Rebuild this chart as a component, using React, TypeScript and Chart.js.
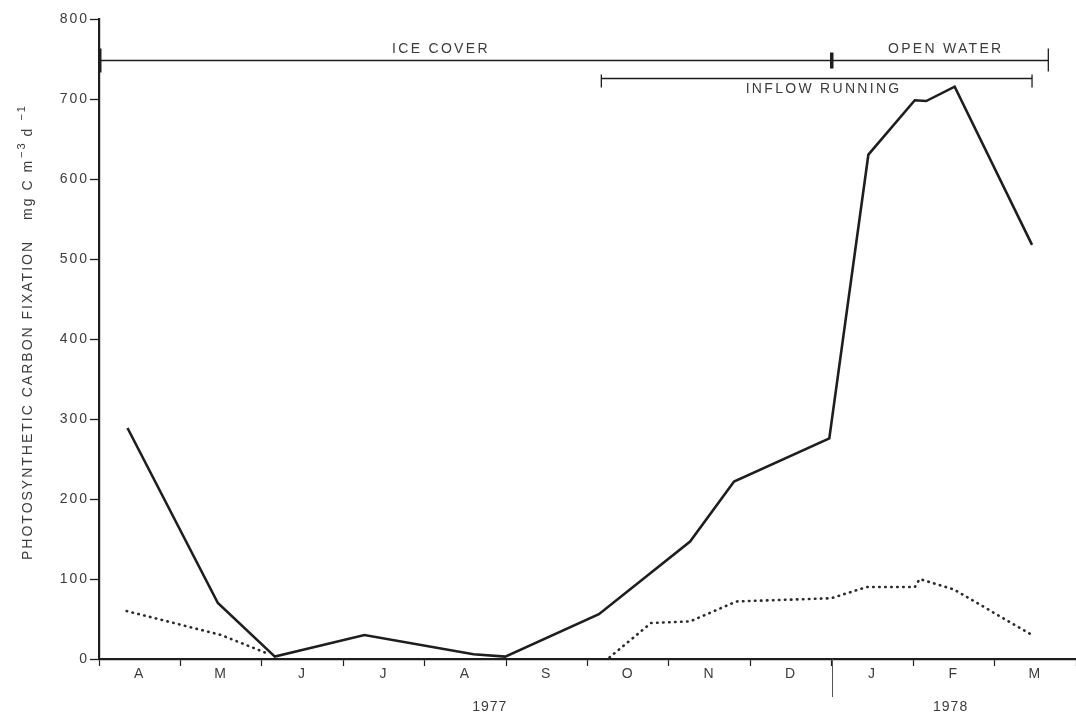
import React, { useEffect, useRef } from 'react';
import { Chart, registerables } from 'chart.js';

Chart.register(...registerables);

// ---------- data ----------
const monthLabels = ['A', 'M', 'J', 'J', 'A', 'S', 'O', 'N', 'D', 'J', 'F', 'M'];
const yearLabels = ['1977', '1978'];
const yearCentres = [4.8, 10.46];
const yearBoundary = 9;

const yMin = 0;
const yMax = 800;
const yStep = 100;

// months since 1 April 1977
const totalMonths = [0.35, 1.46, 2.16, 3.26, 4.6, 4.99, 6.14, 7.26, 7.8, 8.97, 9.45, 10.02, 10.16, 10.51, 11.46];
const totalValues = [289, 70, 3, 30, 6, 3, 56, 147, 222, 276, 631, 699, 698, 716, 518];

const dottedMonths = [0.34, 1.5, 2.09, 4.0, 6.27, 6.78, 7.26, 7.83, 8.99, 9.43, 10.02, 10.08, 10.5, 11.46];
const dottedValues = [60, 30, 6, null, 2, 45, 47, 72, 76, 90, 90, 100, 87, 30];

const periodNames = ['ICE COVER', 'OPEN WATER', 'INFLOW RUNNING'];
const periodStart = [0, 9, 6.17];
const periodEnd = [9, 11.66, 11.46];
const periodLevel = [749, 749, 727];
const periodNameAt = [4.2, 10.4, 8.9];

const yTitleMain = 'PHOTOSYNTHETIC CARBON FIXATION';
const yTitleUnitParts = ['mg C m', '\u22123', 'd', '\u22121'];

// ---------- styles ----------
const INK = '#1e1e1e';
const TEXT = '#3c3c3c';
const FAMILY = '"Liberation Sans", Arial, Helvetica, sans-serif';

const decor = {
  id: 'decor',
  beforeDraw(chart: any) {
    chart.ctx.letterSpacing = '2px';
  },
  afterDraw(chart: any) {
    const ctx = chart.ctx;
    const x = chart.scales.x;
    const y = chart.scales.y;
    ctx.save();

    // period bars
    ctx.strokeStyle = INK;
    ctx.fillStyle = TEXT;
    ctx.font = `14px ${FAMILY}`;
    ctx.letterSpacing = '2.3px';
    ctx.textAlign = 'center';
    ctx.textBaseline = 'middle';
    for (let i = 0; i < periodNames.length; i++) {
      const x1 = x.getPixelForValue(periodStart[i]);
      const x2 = x.getPixelForValue(periodEnd[i]);
      const py = Math.round(y.getPixelForValue(periodLevel[i])) + 0.5;
      ctx.lineWidth = 1.3;
      ctx.beginPath();
      ctx.moveTo(x1, py);
      ctx.lineTo(x2, py);
      ctx.stroke();
      if (i === 0) {
        ctx.lineWidth = 3;
        ctx.beginPath();
        ctx.moveTo(x1 + 1, py - 12);
        ctx.lineTo(x1 + 1, py + 12);
        ctx.stroke();
        ctx.lineWidth = 3.5;
        ctx.beginPath();
        ctx.moveTo(x2, py - 8);
        ctx.lineTo(x2, py + 8);
        ctx.stroke();
      } else if (i === 1) {
        ctx.lineWidth = 1.3;
        ctx.beginPath();
        ctx.moveTo(x2, py - 12);
        ctx.lineTo(x2, py + 11);
        ctx.stroke();
      } else {
        ctx.lineWidth = 1.3;
        ctx.beginPath();
        ctx.moveTo(x1, py - 4);
        ctx.lineTo(x1, py + 9);
        ctx.moveTo(x2, py - 4);
        ctx.lineTo(x2, py + 9);
        ctx.stroke();
      }
      const below = i === 2;
      ctx.fillText(periodNames[i], x.getPixelForValue(periodNameAt[i]), below ? py + 11 : py - 11);
    }

    // year boundary long tick
    const bx = Math.round(x.getPixelForValue(yearBoundary)) + 0.5;
    ctx.strokeStyle = '#555';
    ctx.lineWidth = 1;
    ctx.beginPath();
    ctx.moveTo(bx, y.bottom);
    ctx.lineTo(bx, y.bottom + 38);
    ctx.stroke();

    // years
    ctx.letterSpacing = '1px';
    ctx.font = `14px ${FAMILY}`;
    for (let i = 0; i < yearLabels.length; i++) {
      ctx.fillText(yearLabels[i], x.getPixelForValue(yearCentres[i]), y.bottom + 48);
    }

    // y title (rotated)
    ctx.translate(32, y.bottom - 99);
    ctx.rotate(-Math.PI / 2);
    ctx.textAlign = 'left';
    ctx.textBaseline = 'alphabetic';
    ctx.letterSpacing = '2px';
    ctx.font = `14px ${FAMILY}`;
    let u = 0;
    ctx.fillText(yTitleMain, u, 0);
    u += ctx.measureText(yTitleMain).width + 20;
    ctx.fillText(yTitleUnitParts[0], u, 0);
    u += ctx.measureText(yTitleUnitParts[0]).width + 1;
    ctx.font = `11px ${FAMILY}`;
    ctx.fillText(yTitleUnitParts[1], u, -7);
    u += ctx.measureText(yTitleUnitParts[1]).width + 5;
    ctx.font = `14px ${FAMILY}`;
    ctx.fillText(yTitleUnitParts[2], u, 0);
    u += ctx.measureText(yTitleUnitParts[2]).width + 6;
    ctx.font = `11px ${FAMILY}`;
    ctx.fillText(yTitleUnitParts[3], u, -7);

    ctx.restore();
  },
};

export default function App() {
  const ref = useRef<HTMLCanvasElement | null>(null);

  useEffect(() => {
    const canvas = ref.current;
    if (!canvas) return;
    const chart = new Chart(canvas, {
      type: 'line',
      data: {
        datasets: [
          {
            label: 'total',
            data: totalMonths.map((m, i) => ({ x: m, y: totalValues[i] })),
            borderColor: INK,
            borderWidth: 2.6,
            pointRadius: 0,
            tension: 0,
            fill: false,
          },
          {
            label: 'dotted',
            data: dottedMonths.map((m, i) => ({ x: m, y: dottedValues[i] })),
            borderColor: '#2a2a2a',
            borderWidth: 2.6,
            borderDash: [0.5, 5.5],
            borderCapStyle: 'round',
            pointRadius: 0,
            tension: 0,
            spanGaps: false,
            fill: false,
          },
        ],
      },
      options: {
        animation: false,
        responsive: false,
        maintainAspectRatio: false,
        layout: { padding: { top: 19.5, right: -2, bottom: 0, left: 0 } },
        plugins: {
          legend: { display: false },
          tooltip: { enabled: false },
        },
        scales: {
          x: {
            type: 'linear',
            min: 0,
            max: 12,
            afterBuildTicks: (s: any) => {
              const t = [];
              for (let k = 0; k <= monthLabels.length * 2; k++) t.push({ value: k / 2 });
              s.ticks = t;
            },
            afterFit: (s: any) => {
              s.height = 55;
            },
            ticks: {
              autoSkip: false,
              maxRotation: 0,
              minRotation: 0,
              padding: 0,
              color: TEXT,
              font: { family: FAMILY, size: 14 },
              callback: (v: any) => (Number.isInteger(v) ? '' : monthLabels[Math.floor(v)] || ''),
            },
            grid: {
              display: true,
              drawOnChartArea: false,
              drawTicks: true,
              tickLength: 7,
              tickWidth: 1.2,
              tickColor: (c: any) =>
                c.tick && Number.isInteger(c.tick.value) ? INK : 'rgba(0,0,0,0)',
            },
            border: { display: true, color: INK, width: 2.2 },
          },
          y: {
            type: 'linear',
            min: yMin,
            max: yMax,
            afterFit: (s: any) => {
              s.width = 99;
            },
            ticks: {
              stepSize: yStep,
              color: TEXT,
              padding: 1,
              font: { family: FAMILY, size: 14 },
            },
            grid: {
              display: true,
              drawOnChartArea: false,
              tickLength: 9,
              tickWidth: 1.3,
              tickColor: INK,
            },
            border: { display: true, color: INK, width: 2.2 },
          },
        },
      },
      plugins: [decor],
    } as any);
    return () => chart.destroy();
  }, []);

  return (
    <div style={{ position: 'fixed', left: 0, top: 0, width: 1076, height: 714, background: '#fff' }}>
      <canvas ref={ref} width={1076} height={714} style={{ display: 'block' }} />
    </div>
  );
}
